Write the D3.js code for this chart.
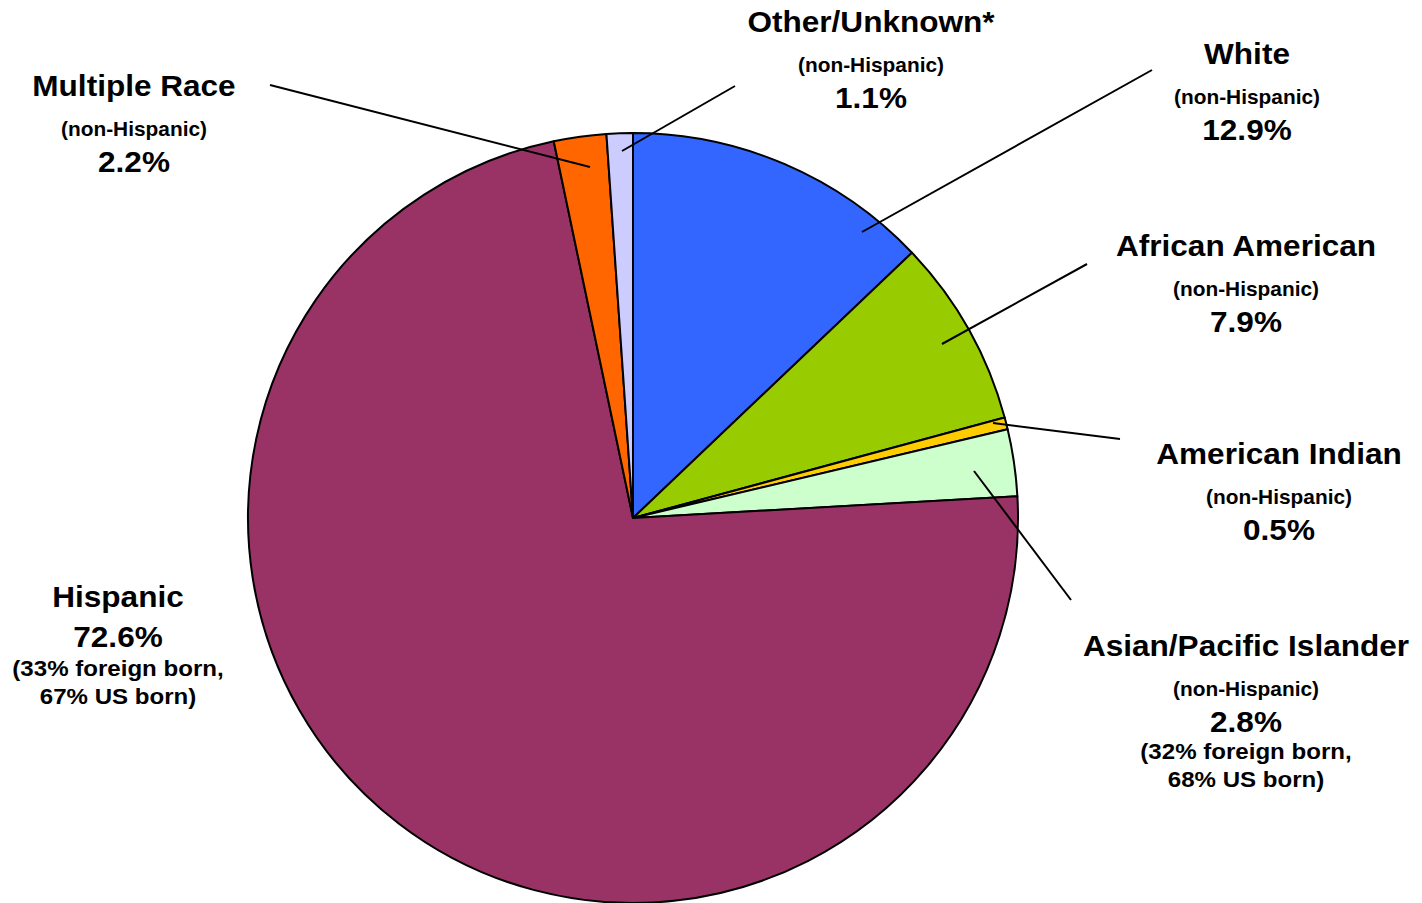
<!DOCTYPE html>
<html>
<head>
<meta charset="utf-8">
<script src="https://cdn.jsdelivr.net/npm/d3@7"></script>
<style>
  html, body { margin: 0; padding: 0; background: #ffffff; }
  svg { display: block; }
  text { font-family: "Liberation Sans", Arial, sans-serif; font-weight: bold; fill: #000; }
</style>
</head>
<body>
<svg id="chart" width="1422" height="903"></svg>
<script>
// ---- data ----
const categories = ["White", "African American", "American Indian", "Asian/Pacific Islander", "Hispanic", "Multiple Race", "Other/Unknown*"];
const values = [12.9, 7.9, 0.5, 2.8, 72.6, 2.2, 1.1];
const qualifiers = ["(non-Hispanic)", "(non-Hispanic)", "(non-Hispanic)", "(non-Hispanic)", null, "(non-Hispanic)", "(non-Hispanic)"];
const birthNotes = [null, null, null, ["(32% foreign born,", "68% US born)"], ["(33% foreign born,", "67% US born)"], null, null];

// ---- style / layout ----
const palette = ["#3366FF", "#99CC00", "#FFCC00", "#CCFFCC", "#993366", "#FF6600", "#CCCCFF"];
const center = [633, 518];
const radius = 385;
// label anchor (center x, title baseline) and leader line [outer point, inner point]
const layout = [
  { x: 1247, y: 64,  line: [[1152, 70], [862, 232]] },
  { x: 1246, y: 256, line: [[1087, 264], [942, 344]] },
  { x: 1279, y: 464, line: [[1120, 439], [993, 423]] },
  { x: 1246, y: 656, line: [[1071, 600], [974, 471]] },
  { x: 118,  y: 607, line: null },
  { x: 134,  y: 96,  line: [[270, 85], [590, 167]] },
  { x: 871,  y: 32,  line: [[735, 86], [622, 151]] }
];

const svg = d3.select("#chart");

const pie = d3.pie().sort(null).value(d => d).startAngle(0).endAngle(2 * Math.PI);
const arc = d3.arc().innerRadius(0).outerRadius(radius);

const g = svg.append("g").attr("transform", `translate(${center[0]},${center[1]})`);
g.selectAll("path.slice")
  .data(pie(values))
  .join("path")
  .attr("class", "slice")
  .attr("d", arc)
  .attr("fill", (d, i) => palette[i])
  .attr("stroke", "#000")
  .attr("stroke-width", 2)
  .attr("stroke-linejoin", "round");

// leader lines
svg.selectAll("line.leader")
  .data(layout.map((l, i) => ({ l, i })).filter(d => d.l.line))
  .join("line")
  .attr("class", "leader")
  .attr("x1", d => d.l.line[0][0]).attr("y1", d => d.l.line[0][1])
  .attr("x2", d => d.l.line[1][0]).attr("y2", d => d.l.line[1][1])
  .attr("stroke", "#000").attr("stroke-width", 2);

// labels
const sx = 1.07;
categories.forEach((cat, i) => {
  const L = layout[i];
  const lg = svg.append("g").attr("transform", `translate(${L.x},${L.y}) scale(${sx},1)`);
  let y = 0;
  lg.append("text").attr("x", 0).attr("y", y).attr("text-anchor", "middle")
    .style("font-size", "29.5px").text(cat);
  if (qualifiers[i]) {
    y += 40;
    lg.append("text").attr("x", 0).attr("y", y).attr("text-anchor", "middle")
      .style("font-size", "19.5px").text(qualifiers[i]);
    y += 36;
  } else {
    y += 40;
  }
  lg.append("text").attr("x", 0).attr("y", y).attr("text-anchor", "middle")
    .style("font-size", "29.5px").text(d3.format(".1f")(values[i]) + "%");
  if (birthNotes[i]) {
    y += (qualifiers[i] ? 27 : 29);
    birthNotes[i].forEach((t, k) => {
      lg.append("text").attr("x", 0).attr("y", y + k * 28).attr("text-anchor", "middle")
        .style("font-size", "22.5px").text(t);
    });
  }
});
</script>
</body>
</html>
